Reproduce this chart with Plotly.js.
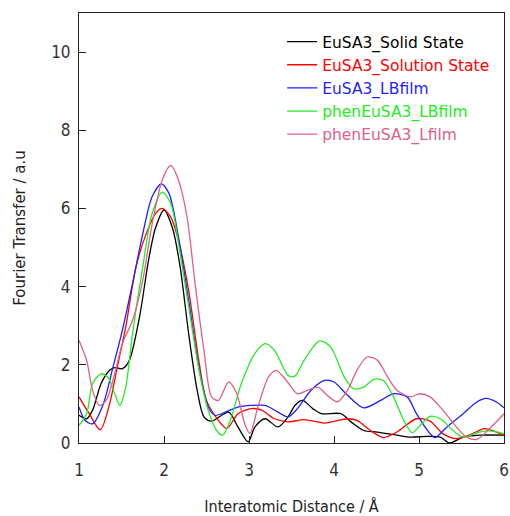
<!DOCTYPE html>
<html>
<head>
<meta charset="utf-8">
<script src="https://cdn.plot.ly/plotly-3.0.1.min.js"></script>
<style>html,body{margin:0;padding:0;background:#fff;}#chart{width:510px;height:516px;}</style>
</head>
<body>
<div id="chart"></div>
<script>
// Interatomic distance (Å) and Fourier transform magnitude (a.u.) per sample
var xSolid = [1.0,1.09,1.16,1.26,1.36,1.42,1.51,1.59,1.71,1.82,1.90,2.0,2.10,2.19,2.29,2.39,2.47,2.56,2.76,2.87,2.99,3.07,3.19,3.34,3.46,3.54,3.63,3.75,3.85,4.08,4.2,4.35,4.51,4.74,4.9,5.09,5.25,5.36,5.52,5.71,6.0];
var ySolid = [0.71,0.62,0.84,1.52,1.86,1.93,1.9,2.1,3.2,4.7,5.5,5.96,5.5,4.5,2.8,1.35,0.67,0.56,0.79,0.41,0.03,0.41,0.62,0.41,0.67,0.96,1.09,0.88,0.75,0.75,0.54,0.32,0.28,0.2,0.15,0.17,0.15,0.0,0.15,0.2,0.2];

var xSolution = [1.0,1.12,1.25,1.36,1.45,1.55,1.67,1.79,1.90,1.98,2.08,2.17,2.29,2.41,2.50,2.64,2.74,2.87,3.03,3.15,3.30,3.46,3.65,3.89,4.16,4.27,4.43,4.58,4.74,4.97,5.13,5.28,5.44,5.63,5.77,5.91,6.0];
var ySolution = [1.18,0.75,0.34,1.0,1.94,2.97,4.5,5.35,5.87,6.0,5.78,5.18,3.9,2.1,1.09,0.58,0.37,0.75,0.88,0.84,0.62,0.54,0.6,0.51,0.62,0.58,0.32,0.14,0.28,0.62,0.56,0.24,0.11,0.24,0.37,0.28,0.2];

var xLB = [1.0,1.07,1.16,1.28,1.40,1.51,1.63,1.75,1.86,1.97,2.06,2.17,2.29,2.41,2.52,2.60,2.72,2.87,3.03,3.19,3.34,3.46,3.57,3.73,3.89,4.0,4.16,4.35,4.55,4.70,4.86,4.97,5.13,5.19,5.33,5.52,5.68,5.79,5.91,6.0];
var yLB = [0.92,0.58,0.49,0.96,1.94,2.88,4.08,5.35,6.3,6.63,6.38,5.27,3.65,1.94,0.92,0.71,0.79,0.92,0.96,0.96,0.79,0.67,0.88,1.35,1.6,1.56,1.22,0.9,1.09,1.26,1.18,0.75,0.24,0.14,0.41,0.75,1.05,1.14,1.05,0.9];

var xPhenLB = [1.0,1.09,1.16,1.26,1.34,1.42,1.48,1.55,1.63,1.75,1.86,1.98,2.08,2.19,2.31,2.42,2.52,2.62,2.69,2.78,2.91,3.07,3.19,3.30,3.46,3.54,3.65,3.83,3.96,4.12,4.23,4.35,4.47,4.58,4.70,4.82,4.92,5.03,5.13,5.25,5.40,5.52,5.71,5.83,6.0];
var yPhenLB = [0.45,0.75,1.52,1.77,1.69,1.26,0.96,1.43,2.8,4.5,5.87,6.42,6.12,4.84,3.22,1.77,0.84,0.32,0.2,0.58,1.52,2.29,2.54,2.37,1.73,1.71,2.12,2.61,2.46,1.69,1.39,1.43,1.63,1.6,1.18,0.58,0.26,0.49,0.68,0.62,0.32,0.15,0.28,0.31,0.24];

var xPhenL = [1.0,1.09,1.16,1.24,1.32,1.42,1.51,1.63,1.75,1.86,1.98,2.08,2.17,2.27,2.37,2.47,2.56,2.64,2.76,2.85,2.95,3.01,3.11,3.23,3.32,3.44,3.57,3.69,3.81,3.92,4.04,4.16,4.27,4.39,4.51,4.62,4.74,4.90,5.01,5.13,5.28,5.44,5.56,5.68,5.83,6.0];
var yPhenL = [2.63,2.11,1.35,0.96,1.09,1.77,2.54,3.14,4.16,5.6,6.73,7.1,6.73,5.79,4.0,2.37,1.18,1.09,1.56,1.3,0.49,0.24,0.96,1.69,1.86,1.6,1.26,1.35,1.43,1.22,1.05,1.35,1.86,2.2,2.12,1.73,1.35,1.18,1.26,1.18,0.84,0.41,0.15,0.09,0.37,0.75];

var names = ['EuSA3_Solid State','EuSA3_Solution State','EuSA3_LBfilm','phenEuSA3_LBfilm','phenEuSA3_Lfilm'];
var colors = ['#000000','#ff0000','#1f1fff','#22ee22','#e0608a'];
var xs = [xSolid, xSolution, xLB, xPhenLB, xPhenL];
var ys = [ySolid, ySolution, yLB, yPhenLB, yPhenL];

var traces = names.map(function(n, i){
  return {
    x: xs[i], y: ys[i], type: 'scatter', mode: 'lines',
    name: '<span style="color:' + colors[i] + '">' + n + '</span>',
    line: {color: colors[i], width: 1.3, shape: 'spline', smoothing: 0.8}
  };
});

var FONT_C = 'DejaVu Sans Condensed, DejaVu Sans, sans-serif';
var FONT = 'DejaVu Sans, sans-serif';
var layout = {
  width: 510, height: 516,
  margin: {l: 79, r: 6, t: 13, b: 73},
  paper_bgcolor: '#ffffff', plot_bgcolor: '#ffffff',
  font: {family: FONT, size: 16, color: '#222'},
  showlegend: true,
  legend: {x: 0.478, y: 0.972, xanchor: 'left', yanchor: 'top', bgcolor: 'rgba(0,0,0,0)',
           font: {family: FONT, size: 15.5}, tracegroupgap: 0},
  xaxis: {
    range: [1, 6], tickvals: [1,2,3,4,5,6], ticks: 'inside', ticklen: 7, tickcolor: '#222',
    showline: true, linecolor: '#222', linewidth: 1, mirror: true, showgrid: false, zeroline: false,
    tickfont: {family: FONT_C, size: 17, color: '#333'}, ticklabelstandoff: 12,
    title: {text: 'Interatomic Distance / Å', font: {family: FONT_C, size: 16, color: '#222'}, standoff: 24}
  },
  yaxis: {
    range: [0, 11], tickvals: [0,2,4,6,8,10], ticks: 'inside', ticklen: 7, tickcolor: '#222',
    showline: true, linecolor: '#222', linewidth: 1, mirror: true, showgrid: false, zeroline: false,
    tickfont: {family: FONT_C, size: 17, color: '#333'}, ticklabelstandoff: 4,
    title: {text: 'Fourier Transfer / a.u', font: {family: FONT, size: 15, color: '#222'}, standoff: 21}
  }
};

Plotly.newPlot('chart', traces, layout, {staticPlot: true, displayModeBar: false});
</script>
</body>
</html>
